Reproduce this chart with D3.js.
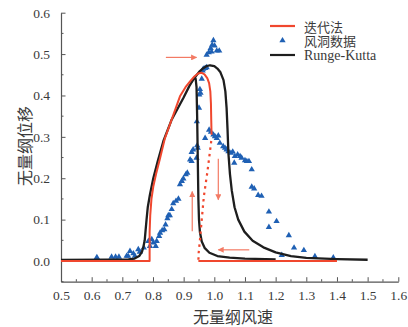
<!DOCTYPE html>
<html>
<head>
<meta charset="utf-8">
<script src="https://cdn.jsdelivr.net/npm/d3@7/dist/d3.min.js"></script>
<style>
  html, body { margin: 0; padding: 0; background: #fff; }
  svg { display: block; }
</style>
</head>
<body>
<svg id="chart" width="408" height="327"></svg>
<script>
// Axis ticks
const xTicks = [0.5, 0.6, 0.7, 0.8, 0.9, 1.0, 1.1, 1.2, 1.3, 1.4, 1.5, 1.6];
const yTicks = [0.0, 0.1, 0.2, 0.3, 0.4, 0.5, 0.6];

// Iteration method: stable upper branch (rising from the jump at 0.79)
const iterUpper = [
  [0.5, 0], [0.789, 0], [0.789, 0.07], [0.791, 0.11], [0.795, 0.15], [0.801, 0.18],
  [0.810, 0.21], [0.822, 0.245], [0.839, 0.297], [0.860, 0.34], [0.888, 0.398],
  [0.906, 0.42], [0.921, 0.434], [0.935, 0.446], [0.947, 0.453], [0.958, 0.455],
  [0.968, 0.451], [0.977, 0.442], [0.983, 0.43], [0.987, 0.41], [0.989, 0.38],
  [0.990, 0.34], [0.991, 0.305]
];
// Iteration method: unstable branch (dotted)
const iterUnstable = [
  [0.990, 0.29], [0.985, 0.26], [0.977, 0.213], [0.966, 0.157], [0.959, 0.10],
  [0.953, 0.05], [0.949, 0.02], [0.948, 0]
];
// Iteration method: lower branch
const iterLower = [[0.948, 0], [1.40, 0]];

// Runge-Kutta: increasing wind speed path
const rkUp = [
  [0.5, 0.0025], [0.65, 0.003], [0.72, 0.004], [0.74, 0.006], [0.755, 0.012],
  [0.764, 0.022], [0.769, 0.035], [0.773, 0.05], [0.776, 0.075], [0.779, 0.10],
  [0.783, 0.13], [0.790, 0.16], [0.801, 0.20], [0.815, 0.24], [0.834, 0.29],
  [0.860, 0.34], [0.899, 0.394], [0.918, 0.422], [0.931, 0.438], [0.940, 0.447],
  [0.953, 0.459], [0.964, 0.466], [0.975, 0.471], [0.986, 0.473], [1.000, 0.471],
  [1.010, 0.465], [1.020, 0.456], [1.030, 0.437], [1.036, 0.41], [1.040, 0.37],
  [1.043, 0.32], [1.046, 0.26], [1.051, 0.21], [1.057, 0.17], [1.066, 0.13],
  [1.078, 0.10], [1.098, 0.071], [1.125, 0.049], [1.160, 0.033], [1.20, 0.021],
  [1.25, 0.012], [1.30, 0.0075], [1.40, 0.0045], [1.50, 0.003]
];
// Runge-Kutta: decreasing wind speed jump-down path
const rkDown = [
  [0.925, 0.432], [0.934, 0.442], [0.939, 0.441], [0.942, 0.42], [0.944, 0.35],
  [0.946, 0.25], [0.948, 0.15], [0.950, 0.10], [0.953, 0.07], [0.959, 0.047],
  [0.969, 0.031], [0.984, 0.02], [1.01, 0.012], [1.05, 0.008], [1.10, 0.006],
  [1.20, 0.004]
];

// Wind tunnel measurements
const tunnelX = [
  0.617, 0.665, 0.678, 0.689, 0.714, 0.719, 0.725, 0.736, 0.741, 0.752, 0.757, 0.770,
  0.785, 0.790, 0.796, 0.801, 0.809, 0.812, 0.820, 0.823, 0.830, 0.837, 0.841, 0.847, 0.850,
  0.855, 0.861, 0.866, 0.875, 0.883, 0.888, 0.894, 0.899, 0.907, 0.912, 0.921, 0.926,
  0.926, 0.931, 0.944, 0.942, 0.946,
  0.943, 0.950, 0.951, 0.955, 0.953, 0.959, 0.962, 0.964, 0.970, 0.975,
  0.975, 0.982, 0.988, 0.991, 0.993, 0.997, 1.001, 1.008, 1.016,
  0.970, 0.983, 0.989, 0.997, 1.002, 1.008, 1.013, 1.018, 1.029, 1.035, 1.040, 1.046,
  1.054, 1.060, 1.065, 1.067, 1.076, 1.084, 1.089, 1.100, 1.106, 1.113, 1.122,
  1.122, 1.130, 1.143, 1.154, 1.178, 1.178, 1.203, 1.220, 1.243, 1.260, 1.292, 1.328, 1.388
];
const tunnelY = [
  0.009, 0.010, 0.010, 0.010, 0.012, 0.012, 0.024, 0.018, 0.012, 0.028, 0.022, 0.032,
  0.048, 0.036, 0.052, 0.044, 0.036, 0.048, 0.060, 0.068, 0.074, 0.076, 0.088, 0.103, 0.110,
  0.110, 0.125, 0.139, 0.145, 0.150, 0.185, 0.193, 0.199, 0.209, 0.213, 0.245, 0.241,
  0.263, 0.269, 0.279, 0.249, 0.273,
  0.337, 0.370, 0.402, 0.406, 0.415, 0.440, 0.460, 0.464, 0.466, 0.468,
  0.498, 0.504, 0.514, 0.506, 0.522, 0.533, 0.520, 0.508, 0.508,
  0.297, 0.317, 0.312, 0.305, 0.301, 0.297, 0.303, 0.285, 0.277, 0.273, 0.269, 0.265,
  0.261, 0.264, 0.237, 0.253, 0.257, 0.253, 0.249, 0.243, 0.241, 0.241, 0.221,
  0.179, 0.175, 0.159, 0.157, 0.119, 0.082, 0.096, 0.014, 0.062, 0.032, 0.026, 0.011, 0.008
];

// Direction arrows: [x1, y1, x2, y2]
const arrows = [
  [0.842, 0.492, 0.942, 0.492],
  [0.928, 0.072, 0.928, 0.168],
  [1.013, 0.247, 1.013, 0.148],
  [1.114, 0.027, 1.013, 0.027]
];

const legendLabels = ["迭代法", "风洞数据", "Runge-Kutta"];

const RED = "#f0472e", BLACK = "#1e1e1e", BLUE = "#1f60b4", ARROW = "#f37a64";
const AXIS = "#555", TEXT = "#3a3a3a";
const serif = "'Liberation Serif', 'DejaVu Serif', serif";
const cjk = "'Noto Sans CJK SC', sans-serif";

const svg = d3.select("#chart");
const x = d3.scaleLinear().domain([0.5, 1.6]).range([61, 398.3]);
const y = d3.scaleLinear().domain([-0.05, 0.6]).range([281.7, 12.7]);

// Axes (ticks point inward)
const minorX = d3.range(0.55, 1.6, 0.1);
const minorY = d3.range(-0.05, 0.6, 0.1);

const gx = svg.append("g").attr("transform", `translate(0,${y(-0.05)})`);
gx.call(d3.axisBottom(x).tickValues(xTicks).tickSizeInner(-4.5).tickSizeOuter(0)
  .tickPadding(9).tickFormat(d3.format(".1f")));
gx.append("g").selectAll("line").data(minorX).join("line")
  .attr("x1", d => x(d)).attr("x2", d => x(d)).attr("y1", 0).attr("y2", -2.5)
  .attr("stroke", AXIS);

const gy = svg.append("g").attr("transform", `translate(${x(0.5)},0)`);
gy.call(d3.axisLeft(y).tickValues(yTicks).tickSizeInner(-4.5).tickSizeOuter(0)
  .tickPadding(11).tickFormat(d3.format(".1f")));
gy.append("g").selectAll("line").data(minorY).join("line")
  .attr("y1", d => y(d)).attr("y2", d => y(d)).attr("x1", 0).attr("x2", 2.5)
  .attr("stroke", AXIS);

[gx, gy].forEach(g => {
  g.select(".domain").attr("stroke", AXIS).attr("stroke-width", 1.2);
  g.selectAll(".tick line").attr("stroke", AXIS);
  g.selectAll(".tick text").attr("fill", TEXT).attr("font-family", serif).attr("font-size", 13.5);
});

// Axis titles
svg.append("text").attr("x", 233).attr("y", 315.5).attr("text-anchor", "middle")
  .attr("dominant-baseline", "central").attr("font-family", cjk).attr("font-size", 16)
  .attr("fill", TEXT).text("无量纲风速");
svg.append("text").attr("transform", "translate(24,146) rotate(-90)").attr("text-anchor", "middle")
  .attr("dominant-baseline", "central").attr("font-family", cjk).attr("font-size", 16)
  .attr("fill", TEXT).text("无量纲位移");

const lineX = d3.line().x(d => x(d[0])).y(d => y(d[1])).curve(d3.curveLinear);

// Wind tunnel points
const tri = d3.symbol().type(d3.symbolTriangle).size(17);
svg.append("g").selectAll("path").data(tunnelX.map((v, i) => [v, tunnelY[i]])).join("path")
  .attr("d", tri).attr("transform", d => `translate(${x(d[0])},${y(d[1])})`)
  .attr("fill", BLUE);

// Runge-Kutta curves
svg.append("path").datum(rkUp).attr("d", lineX).attr("fill", "none")
  .attr("stroke", BLACK).attr("stroke-width", 2.3).attr("stroke-linejoin", "round");
svg.append("path").datum(rkDown).attr("d", lineX).attr("fill", "none")
  .attr("stroke", BLACK).attr("stroke-width", 2.3).attr("stroke-linejoin", "round");

// Iteration method curves
svg.append("path").datum(iterUpper).attr("d", lineX).attr("fill", "none")
  .attr("stroke", RED).attr("stroke-width", 2).attr("stroke-linejoin", "round");
svg.append("path").datum(iterLower).attr("d", lineX).attr("fill", "none")
  .attr("stroke", RED).attr("stroke-width", 2);
svg.append("path").datum(iterUnstable).attr("d", lineX).attr("fill", "none")
  .attr("stroke", RED).attr("stroke-width", 2.2).attr("stroke-dasharray", "2.5,4");

// Arrows
const defs = svg.append("defs");
defs.append("marker").attr("id", "head").attr("viewBox", "0 0 10 10")
  .attr("refX", 9).attr("refY", 5).attr("markerWidth", 9).attr("markerHeight", 6)
  .attr("markerUnits", "userSpaceOnUse").attr("orient", "auto")
  .append("path").attr("d", "M0,0 L10,5 L0,10 Z").attr("fill", ARROW);
svg.append("g").selectAll("line").data(arrows).join("line")
  .attr("x1", d => x(d[0])).attr("y1", d => y(d[1]))
  .attr("x2", d => x(d[2])).attr("y2", d => y(d[3]))
  .attr("stroke", ARROW).attr("stroke-width", 1.2).attr("marker-end", "url(#head)");

// Legend
const lg = svg.append("g");
const ly = [26, 40.5, 55];
lg.append("line").attr("x1", 270).attr("x2", 295).attr("y1", ly[0]).attr("y2", ly[0])
  .attr("stroke", RED).attr("stroke-width", 2.2);
lg.append("path").attr("d", tri).attr("transform", `translate(282.5,${ly[1]})`).attr("fill", BLUE);
lg.append("line").attr("x1", 270).attr("x2", 295).attr("y1", ly[2]).attr("y2", ly[2])
  .attr("stroke", BLACK).attr("stroke-width", 2.2);
lg.selectAll("text").data(legendLabels).join("text")
  .attr("x", 304).attr("y", (d, i) => ly[i]).attr("dominant-baseline", "central")
  .attr("font-family", (d, i) => i === 2 ? serif : cjk)
  .attr("font-size", (d, i) => i === 2 ? 14 : 13)
  .attr("fill", TEXT).text(d => d);
</script>
</body>
</html>
